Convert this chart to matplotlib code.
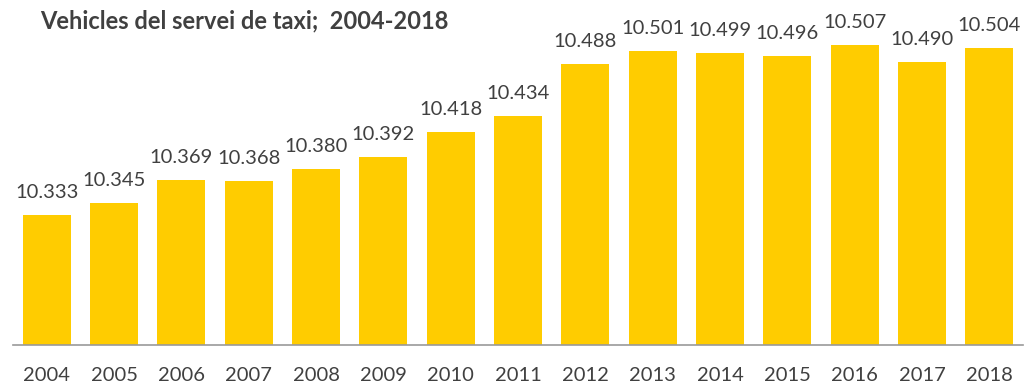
import matplotlib
matplotlib.use("Agg")
import matplotlib.pyplot as plt

years = ["2004", "2005", "2006", "2007", "2008", "2009", "2010", "2011",
         "2012", "2013", "2014", "2015", "2016", "2017", "2018"]
values = [10.333, 10.345, 10.369, 10.368, 10.380, 10.392, 10.418, 10.434,
          10.488, 10.501, 10.499, 10.496, 10.507, 10.490, 10.504]
title = "Vehicles del servei de taxi;  2004-2018"

plt.rcParams['font.family'] = ['Lato', 'DejaVu Sans']
W, H = 1026, 384
fig = plt.figure(figsize=(W / 100, H / 100), dpi=100)
left, right, bottom, top = 13, 1023, 345, 3
ax = fig.add_axes([left / W, 1 - bottom / H, (right - left) / W, (bottom - top) / H])

x = list(range(len(years)))
ax.bar(x, values, width=0.71, color="#FFCC00")
ax.set_xlim(-0.5, len(years) - 0.5)
ax.set_ylim(10.2, 10.55)
ax.set_xticks(x)
ax.set_xticklabels(years, fontsize=14.5, color="#404040")
ax.tick_params(axis='x', length=0, pad=16)
ax.set_yticks([])
for s in ["left", "right", "top"]:
    ax.spines[s].set_visible(False)
ax.spines["bottom"].set_color("#999999")
ax.spines["bottom"].set_linewidth(1.2)

for xi, v in zip(x, values):
    ax.annotate(f"{v:.3f}", (xi, v), xytext=(0, 10), textcoords="offset points",
                ha="center", va="bottom", fontsize=14.5, color="#404040")

fig.text(40 / W, 1 - 21 / H, title, fontsize=17, fontweight="bold",
         color="#404040", ha="left", va="center")

fig.savefig("out.png", dpi=100)
